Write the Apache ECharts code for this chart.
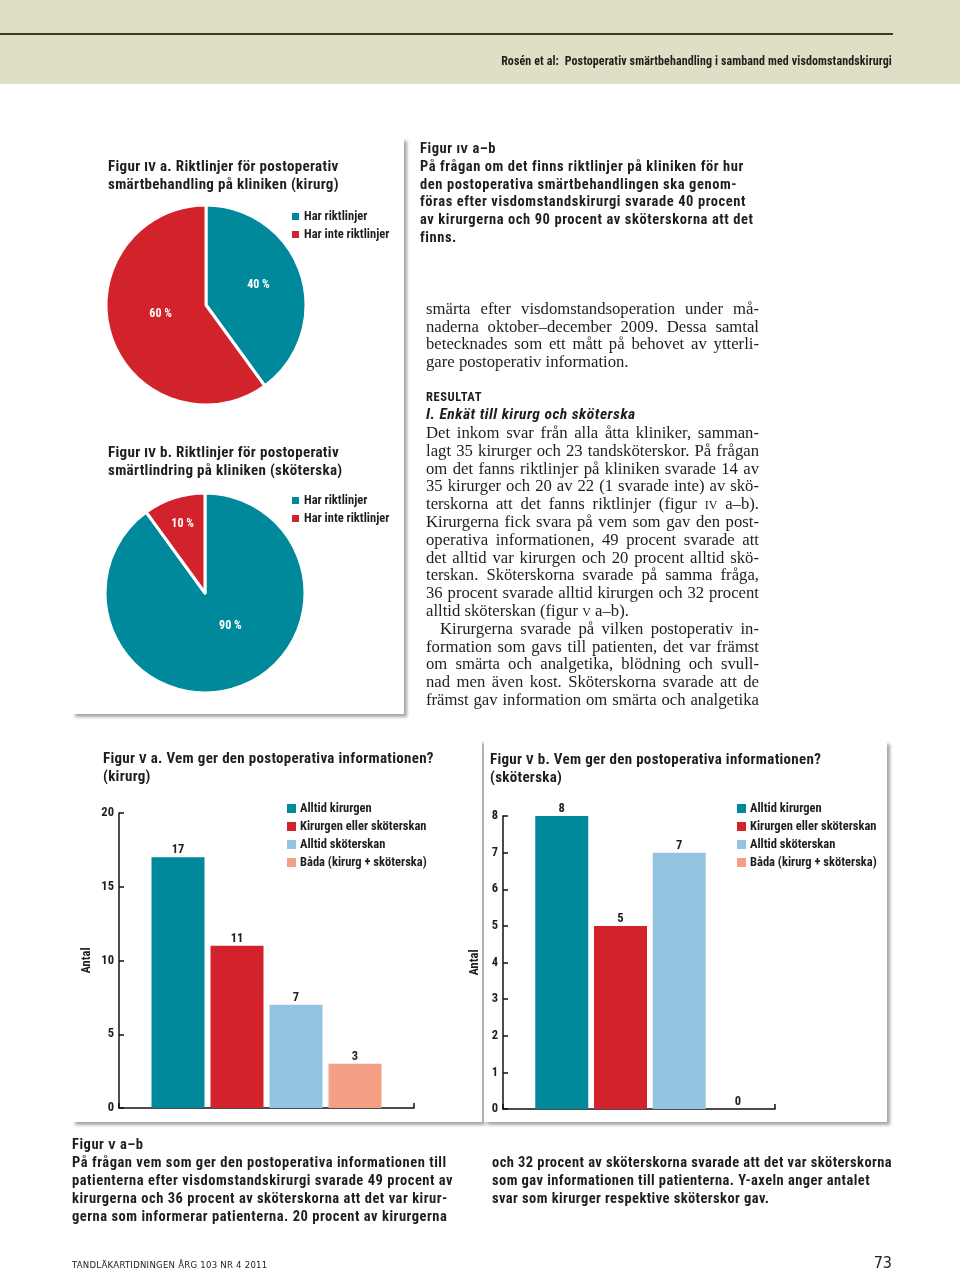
<!DOCTYPE html>
<html>
<head>
<meta charset="utf-8">
<script src="https://cdn.jsdelivr.net/npm/echarts@6/dist/echarts.min.js"></script>
<style>
  html, body { margin: 0; padding: 0; background: #fff; }
  body { width: 960px; height: 1271px; position: relative; overflow: hidden; }
  .abs { position: absolute; }
  .cap { font-family: "Liberation Sans Narrow", "Roboto Condensed", "DejaVu Sans Condensed", sans-serif; font-weight: bold; color: #1e1e1e; white-space: nowrap; }
  .serif { font-family: "Liberation Serif", "DejaVu Serif", serif; color: #1e1e1e; font-size: 16.7px; }
  .j { text-align: justify; text-align-last: justify; white-space: nowrap; }
  .sc { font-variant: small-caps; }
  .box { background: #fff; box-shadow: 3px 3px 3px rgba(0,0,0,0.35); }
  #chart { position: absolute; left: 0; top: 0; width: 960px; height: 1271px; z-index: 2; }
  .txt { z-index: 3; }
</style>
</head>
<body>
<div class="abs" style="left:0;top:0;width:960px;height:84px;background:#dfdfc5;"></div>
<div class="abs" style="left:0;top:33px;width:893px;height:2px;background:#3b3b2c;"></div>
<div class="abs cap txt" style="right:68px;top:53px;font-size:12px;line-height:16px;letter-spacing:0.1px;">Rosén et al:&nbsp; Postoperativ smärtbehandling i samband med visdomstandskirurgi</div>

<div class="abs box" style="left:72px;top:138px;width:332px;height:576px;"></div>
<div class="abs box" style="left:72px;top:740px;width:410px;height:382px;"></div>
<div class="abs box" style="left:484px;top:741px;width:403px;height:381px;"></div>

<div id="chart"></div>

<!-- Figure IV titles -->
<div class="abs cap txt" style="left:108px;top:157px;font-size:15px;line-height:18px;letter-spacing:0.33px;">Figur <span class="sc">iv</span> a. Riktlinjer för postoperativ<br>smärtbehandling på kliniken (kirurg)</div>
<div class="abs cap txt" style="left:108px;top:443px;font-size:15px;line-height:18px;letter-spacing:0.33px;">Figur <span class="sc">iv</span> b. Riktlinjer för postoperativ<br>smärtlindring på kliniken (sköterska)</div>

<!-- Right caption -->
<div class="abs cap txt" style="left:420px;top:140px;font-size:14.5px;line-height:17.8px;letter-spacing:0.57px;">Figur <span class="sc">iv</span> a–b<br>På frågan om det finns riktlinjer på kliniken för hur<br>den postoperativa smärtbehandlingen ska genom-<br>föras efter visdomstandskirurgi svarade 40 procent<br>av kirurgerna och 90 procent av sköterskorna att det<br>finns.</div>

<!-- Body text -->
<div class="abs serif txt" style="left:426px;top:300px;width:333px;line-height:17.7px;">
  <div class="j">smärta efter visdomstandsoperation under må-</div>
  <div class="j">naderna oktober–december 2009. Dessa samtal</div>
  <div class="j">betecknades som ett mått på behovet av ytterli-</div>
  <div>gare postoperativ information.</div>
</div>
<div class="abs cap txt" style="left:426px;top:389px;font-size:12.5px;line-height:16px;letter-spacing:0.6px;">RESULTAT</div>
<div class="abs cap txt" style="left:426px;top:405px;font-size:15.5px;line-height:18px;font-style:italic;letter-spacing:0.5px;">I. Enkät till kirurg och sköterska</div>
<div class="abs serif txt" style="left:426px;top:424px;width:333px;line-height:17.8px;">
  <div class="j">Det inkom svar från alla åtta kliniker, samman-</div>
  <div class="j">lagt 35 kirurger och 23 tandsköterskor. På frågan</div>
  <div class="j">om det fanns riktlinjer på kliniken svarade 14 av</div>
  <div class="j">35 kirurger och 20 av 22 (1 svarade inte) av skö-</div>
  <div class="j">terskorna att det fanns riktlinjer (figur <span class="sc">iv</span> a–b).</div>
  <div class="j">Kirurgerna fick svara på vem som gav den post-</div>
  <div class="j">operativa informationen, 49 procent svarade att</div>
  <div class="j">det alltid var kirurgen och 20 procent alltid skö-</div>
  <div class="j">terskan. Sköterskorna svarade på samma fråga,</div>
  <div class="j">36 procent svarade alltid kirurgen och 32 procent</div>
  <div>alltid sköterskan (figur <span class="sc">v</span> a–b).</div>
  <div class="j" style="padding-left:14px;">Kirurgerna svarade på vilken postoperativ in-</div>
  <div class="j">formation som gavs till patienten, det var främst</div>
  <div class="j">om smärta och analgetika, blödning och svull-</div>
  <div class="j">nad men även kost. Sköterskorna svarade att de</div>
  <div class="j">främst gav information om smärta och analgetika</div>
</div>

<!-- Figure V titles -->
<div class="abs cap txt" style="left:103px;top:749px;font-size:15px;line-height:18px;letter-spacing:0.3px;">Figur <span class="sc">v</span> a. Vem ger den postoperativa informationen?<br>(kirurg)</div>
<div class="abs cap txt" style="left:490px;top:750px;font-size:15px;line-height:18px;letter-spacing:0.3px;">Figur <span class="sc">v</span> b. Vem ger den postoperativa informationen?<br>(sköterska)</div>

<!-- Bottom caption -->
<div class="abs cap txt" style="left:72px;top:1136px;font-size:14.5px;line-height:18px;letter-spacing:0.52px;">Figur <span class="sc">v</span> a–b<br>På frågan vem som ger den postoperativa informationen till<br>patienterna efter visdomstandskirurgi svarade 49 procent av<br>kirurgerna och 36 procent av sköterskorna att det var kirur-<br>gerna som informerar patienterna. 20 procent av kirurgerna</div>
<div class="abs cap txt" style="left:492px;top:1154px;font-size:14.5px;line-height:18px;letter-spacing:0.42px;">och 32 procent av sköterskorna svarade att det var sköterskorna<br>som gav informationen till patienterna. Y-axeln anger antalet<br>svar som kirurger respektive sköterskor gav.</div>

<!-- Footer -->
<div class="abs txt" style="left:72px;top:1258px;font-family:'Liberation Sans Narrow','DejaVu Sans Condensed',sans-serif;font-size:9.5px;line-height:14px;letter-spacing:0.25px;color:#222;">TANDLÄKARTIDNINGEN ÅRG 103 NR 4 2011</div>
<div class="abs txt" style="right:68px;top:1254px;font-family:'Liberation Sans Narrow','DejaVu Sans Condensed',sans-serif;font-size:16px;line-height:18px;color:#222;">73</div>

<script>
// ---- Data ----
const pieCategories = ['Har riktlinjer', 'Har inte riktlinjer'];
const pieKirurg = [40, 60];
const pieSkoterska = [90, 10];

const barCategories = ['Alltid kirurgen', 'Kirurgen eller sköterskan', 'Alltid sköterskan', 'Båda (kirurg + sköterska)'];
const barKirurg = [17, 11, 7, 3];
const barSkoterska = [8, 5, 7, 0];

const ticksKirurg = [0, 5, 10, 15, 20];
const ticksSkoterska = [0, 1, 2, 3, 4, 5, 6, 7, 8];

// ---- Styles ----
const pieColors = ['#00899b', '#d2222b'];
const barColors = ['#00899b', '#d2222b', '#93c4e2', '#f4a084'];
const FONT = '"Liberation Sans Narrow", "Roboto Condensed", "DejaVu Sans Condensed", sans-serif';
const TXT = '#1e1e1e';

const chart = echarts.init(document.getElementById('chart'), null, { renderer: 'canvas' });

function pieData(values, offsets) {
  return values.map((v, i) => ({
    name: pieCategories[i],
    value: v,
    itemStyle: { color: pieColors[i] },
    label: { offset: offsets[i] }
  }));
}

function pieSeries(center, values, offsets) {
  return {
    type: 'pie',
    center: center,
    radius: [0, 100],
    startAngle: 90,
    clockwise: true,
    silent: true,
    itemStyle: { borderColor: '#fff', borderWidth: 3 },
    label: {
      show: true,
      position: 'inside',
      formatter: p => p.value + ' %',
      color: '#fff',
      fontFamily: FONT,
      fontWeight: 'bold',
      fontSize: 12
    },
    labelLine: { show: false },
    data: pieData(values, offsets)
  };
}

function legend(left, top, data) {
  return {
    orient: 'vertical',
    left: left, top: top,
    padding: 0,
    itemWidth: 9, itemHeight: 9, itemGap: 5,
    icon: 'rect',
    selectedMode: false,
    textStyle: { fontFamily: FONT, fontWeight: 'bold', fontSize: 12.5, color: TXT, padding: [0, 0, 0, -1] },
    data: data
  };
}

function barSeries(values, gridIdx, stack) {
  return barCategories.map((name, i) => ({
    name: name,
    type: 'bar',
    xAxisIndex: gridIdx,
    yAxisIndex: gridIdx,
    stack: stack,
    barWidth: 53,
    silent: true,
    itemStyle: { color: barColors[i] },
    label: {
      show: true, position: 'top', distance: 1, lineHeight: 12,
      fontFamily: FONT, fontWeight: 'bold', fontSize: 12.5, color: TXT
    },
    data: [[i + 1, values[i]]]
  }));
}

function yAxis(gridIdx, ticks, nameGap) {
  return {
    type: 'value',
    gridIndex: gridIdx,
    min: ticks[0],
    max: ticks[ticks.length - 1],
    interval: ticks[1] - ticks[0],
    name: 'Antal',
    nameLocation: 'middle',
    nameGap: nameGap,
    nameTextStyle: { fontFamily: FONT, fontWeight: 'bold', fontSize: 12.5, color: TXT },
    axisLine: { show: true, lineStyle: { color: '#111', width: 1.5 } },
    axisTick: { show: true, inside: true, length: 5, lineStyle: { color: '#111', width: 1.5 } },
    axisLabel: { fontFamily: FONT, fontWeight: 'bold', fontSize: 12.5, color: TXT, margin: 5 },
    splitLine: { show: false }
  };
}

function xAxis(gridIdx, max) {
  return {
    type: 'value',
    gridIndex: gridIdx,
    min: 0,
    max: max,
    interval: max,
    axisLine: { show: true, onZero: false, lineStyle: { color: '#111', width: 1.5 } },
    axisTick: { show: true, inside: true, length: 5, lineStyle: { color: '#111', width: 1.5 } },
    axisLabel: { show: false },
    splitLine: { show: false }
  };
}

const option = {
  backgroundColor: 'transparent',
  animation: false,
  legend: [
    legend(290, 210, pieCategories),
    legend(290, 494, pieCategories),
    legend(287, 802, barCategories),
    legend(737, 802, barCategories)
  ],
  grid: [
    { left: 119, top: 813, width: 295, height: 295 },
    { left: 503, top: 816, width: 272, height: 293 }
  ],
  xAxis: [xAxis(0, 5), xAxis(1, 4.63)],
  yAxis: [yAxis(0, ticksKirurg, 26), yAxis(1, ticksSkoterska, 22)],
  series: [
    pieSeries([206, 305], pieKirurg, [[2, -4], [5, -7]]),
    pieSeries([205, 593], pieSkoterska, [[9, -17], [-6, -19]]),
    ...barSeries(barKirurg, 0, 'a'),
    ...barSeries(barSkoterska, 1, 'b')
  ]
};
chart.setOption(option);
</script>
</body>
</html>
